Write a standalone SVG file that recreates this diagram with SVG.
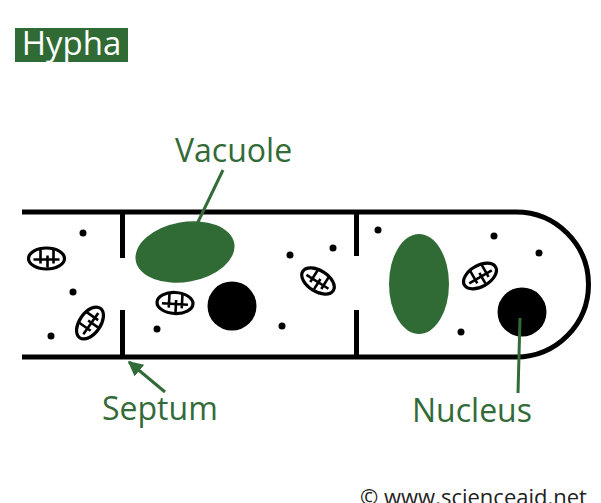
<svg xmlns="http://www.w3.org/2000/svg" width="601" height="503" viewBox="0 0 601 503">
  <style>
    .wall { fill: none; stroke: #000; stroke-width: 5; }
    .septum { stroke: #000; stroke-width: 5; }
    .vac { fill: #306b35; }
    .nuc { fill: #000; }
    .dot { fill: #000; }
    .lbl { font-family: "Open Sans", "Liberation Sans", sans-serif; font-size: 32px; fill: #336b38; }
    .lead { stroke: #336b38; stroke-width: 3; fill: none; }
  </style>
  <defs>
    <!-- mitochondrion: outlined ellipse with cristae -->
    <g id="mito">
      <ellipse cx="0" cy="0" rx="18" ry="10.5" fill="#fff" stroke="#000" stroke-width="3.2"/>
      <path d="M-13,1 H13 M-6,-9 V5 M1,9 V-3 M7,-9 V5" fill="none" stroke="#000" stroke-width="2.6"/>
    </g>
    <marker id="arrow" viewBox="0 0 10 10" refX="9" refY="5" markerWidth="5" markerHeight="5" orient="auto" markerUnits="strokeWidth">
      <path d="M0,0 L10,5 L0,10 Z" fill="#336b38"/>
    </marker>
  </defs>

  <!-- title -->
  <g id="title">
    <rect x="15" y="28" width="113" height="34" fill="#306b35"/>
    <text x="71.5" y="55" text-anchor="middle" font-family="Open Sans, Liberation Sans, sans-serif" font-size="33" font-weight="500" fill="#fff">Hypha</text>
  </g>

  <!-- hyphal wall with rounded tip -->
  <g id="wall">
    <path class="wall" d="M22,212 H516 A72.5,72.5 0 0 1 516,357 H22"/>
  </g>

  <!-- septa -->
  <g id="septum1">
    <line class="septum" x1="122.5" y1="212" x2="122.5" y2="258"/>
    <line class="septum" x1="122.5" y1="310" x2="122.5" y2="357"/>
  </g>
  <g id="septum2">
    <line class="septum" x1="356.5" y1="212" x2="356.5" y2="256"/>
    <line class="septum" x1="356.5" y1="310" x2="356.5" y2="357"/>
  </g>

  <!-- vacuoles -->
  <g id="vacuole1"><ellipse class="vac" cx="185" cy="252" rx="50" ry="30" transform="rotate(-10 185 252)"/></g>
  <g id="vacuole2"><ellipse class="vac" cx="419" cy="284" rx="30" ry="50"/></g>

  <!-- nuclei -->
  <g id="nucleus1"><circle class="nuc" cx="232" cy="306" r="24.5"/></g>
  <g id="nucleus2"><circle class="nuc" cx="522" cy="312" r="24.5"/></g>

  <!-- mitochondria -->
  <g id="mitochondria">
    <use href="#mito" transform="translate(46.5 258.5)"/>
    <use href="#mito" transform="translate(90 323) rotate(-55)"/>
    <use href="#mito" transform="translate(175 303) rotate(3)"/>
    <use href="#mito" transform="translate(318 281) rotate(32)"/>
    <use href="#mito" transform="translate(480 276) rotate(-30)"/>
  </g>

  <!-- granules -->
  <g id="granules">
    <circle class="dot" cx="83" cy="233" r="3.5"/>
    <circle class="dot" cx="73" cy="292" r="3.5"/>
    <circle class="dot" cx="51" cy="336" r="3.5"/>
    <circle class="dot" cx="157" cy="329" r="3.5"/>
    <circle class="dot" cx="290" cy="255" r="3.5"/>
    <circle class="dot" cx="333" cy="248" r="3.5"/>
    <circle class="dot" cx="282" cy="326" r="3.5"/>
    <circle class="dot" cx="378" cy="230" r="3.5"/>
    <circle class="dot" cx="494" cy="236" r="3.5"/>
    <circle class="dot" cx="539" cy="253" r="3.5"/>
    <circle class="dot" cx="461" cy="332" r="3.5"/>
  </g>

  <!-- leader lines -->
  <g id="connectors">
    <line class="lead" x1="223" y1="170" x2="197" y2="224"/>
    <line class="lead" x1="520" y1="318" x2="518" y2="393"/>
    <line class="lead" x1="165" y1="392" x2="129" y2="362" marker-end="url(#arrow)"/>
  </g>

  <!-- labels -->
  <g id="labels">
    <text class="lbl" x="175" y="162">Vacuole</text>
    <text class="lbl" x="102" y="420">Septum</text>
    <text class="lbl" x="412" y="422">Nucleus</text>
  </g>

  <text x="360" y="505" font-family="Open Sans, Liberation Sans, sans-serif" font-size="22" fill="#222">© www.scienceaid.net</text>
</svg>
